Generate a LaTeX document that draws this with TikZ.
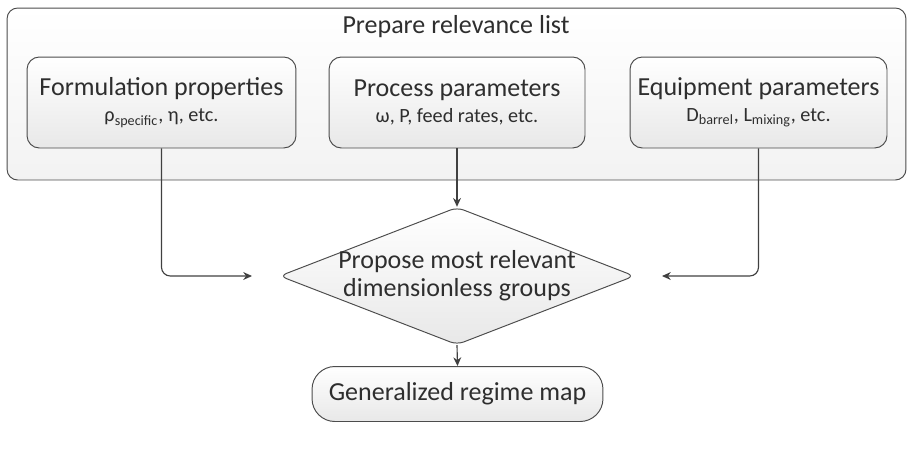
\documentclass[tikz,border=0pt]{standalone}
\usepackage{fontspec}
\setmainfont{Carlito}
\usetikzlibrary{shapes.geometric,arrows.meta}

\begin{document}
\begin{tikzpicture}[x=0.02cm,y=-0.02cm,
    every node/.style={text=black!82},
    flowline/.style={draw=black!75, line width=0.65pt, rounded corners=5pt,
      -{Stealth[length=5pt,width=4.5pt]}},
    shadebox/.style={draw=black!70, line width=0.55pt, rounded corners=7pt,
      top color=white, bottom color=black!9, align=center, inner sep=0pt},
    grouptitle/.style={font=\fontsize{14.8}{17}\selectfont}]
  \useasboundingbox (0,0) rectangle (912,451);

  % relevance list
  \node[shadebox, rounded corners=6pt, top color=white, bottom color=black!5,
    minimum width=17.98cm, minimum height=3.44cm] (group) at (456.5,94) {};
  \node[grouptitle] (grouptxt) at (456,27) {Prepare relevance list};

  % three inputs
  \node[shadebox, minimum width=5.38cm, minimum height=1.82cm] (form) at (161.5,102.5)
    {{\fontsize{14.8}{17}\selectfont Formulation properties}\\[3pt]
     {\fontsize{11.5}{13}\selectfont ρ\textsubscript{specific}, η, etc.}};
  \node[shadebox, minimum width=5.12cm, minimum height=1.82cm] (proc) at (457,102.5)
    {{\fontsize{14.8}{17}\selectfont Process parameters}\\[3pt]
     {\fontsize{11.5}{13}\selectfont ω, P, feed rates, etc.}};
  \node[shadebox, minimum width=5.14cm, minimum height=1.82cm] (equip) at (758.5,102.5)
    {{\fontsize{14.8}{17}\selectfont Equipment parameters}\\[3pt]
     {\fontsize{11.5}{13}\selectfont D\textsubscript{barrel}, L\textsubscript{mixing}, etc.}};

  % decision and result
  \node[diamond, draw=black!70, line width=0.55pt, rounded corners=4pt,
    top color=white, bottom color=black!9, align=center, inner sep=-12pt,
    minimum width=7.1cm, minimum height=2.75cm, aspect=2.6,
    font=\fontsize{14.8}{16}\selectfont] (prop) at (457,276)
    {Propose most relevant\\dimensionless groups};
  \node[shadebox, rounded corners=13pt, minimum width=5.82cm, minimum height=1.1cm,
    font=\fontsize{14.8}{17}\selectfont] (map) at (457.5,394) {Generalized regime map};

  \coordinate (inL) at (252,276);
  \coordinate (inR) at (662,276);

  % connectors
  \draw[flowline] (form.south) |- (inL);
  \draw[flowline] (equip.south) |- (inR);
  \draw[flowline] (proc.south) -- (prop.north);
  \draw[flowline] (prop.south) -- (map.north);
\end{tikzpicture}
\end{document}
